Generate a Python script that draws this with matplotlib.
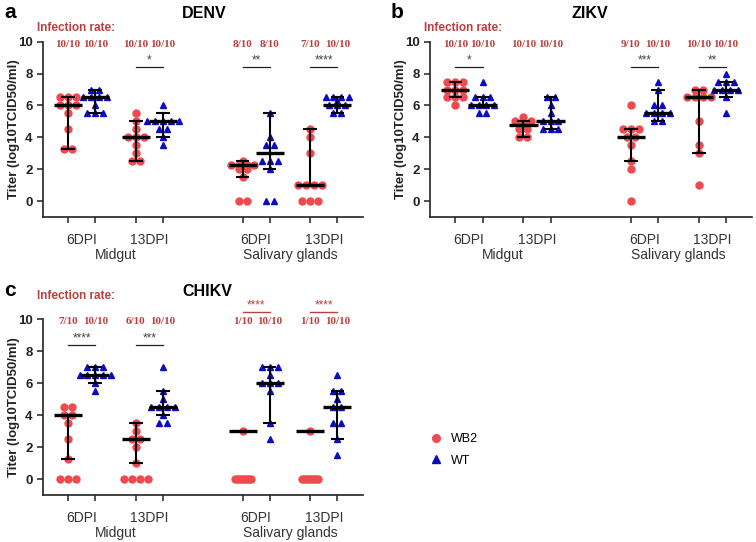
import numpy as np
import matplotlib
matplotlib.use('Agg')
import matplotlib.pyplot as plt
from matplotlib.lines import Line2D

plt.rcParams['font.family'] = ['Liberation Sans', 'DejaVu Sans']

strains = ['WB2', 'WT']
days = ['6DPI', '13DPI']
tissues = ['Midgut', 'Salivary glands']

# order: WB2/WT 6DPI, WB2/WT 13DPI (midgut), then the same for salivary glands
denv_pts = [
    [6.5, 6.5, 6.5, 6.0, 6.0, 6.0, 5.5, 4.5, 3.25, 3.25],
    [7.0, 7.0, 6.5, 6.5, 6.5, 6.5, 6.0, 5.5, 5.5, 5.5],
    [5.5, 5.0, 4.5, 4.0, 4.0, 4.0, 3.5, 3.0, 2.5, 2.5],
    [6.0, 5.0, 5.0, 5.0, 5.0, 5.0, 4.5, 4.5, 4.0, 3.5],
    [2.5, 2.25, 2.25, 2.25, 2.25, 2.0, 2.0, 1.5, 0, 0],
    [5.5, 4.0, 3.5, 3.5, 2.5, 2.5, 2.5, 2.0, 0, 0],
    [4.5, 4.0, 3.0, 1.0, 1.0, 1.0, 1.0, 0, 0, 0],
    [6.5, 6.5, 6.5, 6.5, 6.25, 6.0, 6.0, 6.0, 5.5, 5.5],
]
denv_med = [6.0, 6.5, 4.0, 5.0, 2.25, 3.0, 1.0, 6.0]
denv_lo = [3.25, 5.5, 2.5, 4.0, 1.5, 2.0, 1.0, 5.5]
denv_hi = [6.5, 7.0, 5.0, 5.5, 2.5, 5.5, 4.5, 6.5]
denv_rate = ['10/10', '10/10', '10/10', '10/10', '8/10', '8/10', '7/10', '10/10']
denv_sig = [(2, '*'), (4, '**'), (6, '****')]

zikv_pts = [
    [7.5, 7.5, 7.5, 7.0, 7.0, 7.0, 6.5, 6.5, 6.5, 6.0],
    [7.5, 6.5, 6.5, 6.5, 6.0, 6.0, 6.0, 6.0, 5.5, 5.5],
    [5.25, 5.0, 5.0, 5.0, 4.75, 4.75, 4.5, 4.5, 4.0, 4.0],
    [6.5, 6.5, 6.0, 5.5, 5.0, 5.0, 5.0, 4.5, 4.5, 4.5],
    [6.0, 4.5, 4.5, 4.5, 4.0, 4.0, 3.5, 2.5, 2.0, 0],
    [7.5, 7.0, 6.0, 6.0, 5.5, 5.5, 5.5, 5.5, 5.0, 5.0],
    [7.0, 7.0, 6.5, 6.5, 6.5, 6.5, 5.0, 3.5, 3.0, 1.0],
    [8.0, 7.5, 7.5, 7.5, 7.0, 7.0, 7.0, 7.0, 6.5, 5.5],
]
zikv_med = [7.0, 6.0, 4.75, 5.0, 4.0, 5.5, 6.5, 7.0]
zikv_lo = [6.5, 5.9, 4.0, 4.5, 2.5, 5.0, 3.0, 6.5]
zikv_hi = [7.5, 6.5, 5.0, 6.5, 4.5, 7.0, 7.0, 7.5]
zikv_rate = ['10/10', '10/10', '10/10', '10/10', '9/10', '10/10', '10/10', '10/10']
zikv_sig = [(0, '*'), (4, '***'), (6, '**')]

chikv_pts = [
    [4.5, 4.5, 4.0, 4.0, 3.5, 2.5, 1.25, 0, 0, 0],
    [7.0, 7.0, 7.0, 6.5, 6.5, 6.5, 6.5, 6.5, 6.0, 5.5],
    [3.5, 3.0, 2.5, 2.5, 2.0, 1.0, 0, 0, 0, 0],
    [7.0, 5.5, 5.0, 4.5, 4.5, 4.5, 4.5, 4.0, 3.5, 3.5],
    [3.0, 0, 0, 0, 0, 0, 0, 0, 0, 0],
    [7.0, 7.0, 7.0, 6.5, 6.0, 6.0, 6.0, 5.5, 3.5, 2.5],
    [3.0, 0, 0, 0, 0, 0, 0, 0, 0, 0],
    [6.5, 5.5, 5.5, 5.0, 4.5, 4.5, 3.5, 3.5, 2.5, 1.5],
]
chikv_med = [4.0, 6.5, 2.5, 4.5, 3.0, 6.0, 3.0, 4.5]
chikv_lo = [1.25, 6.0, 1.0, 4.0, None, 3.5, None, 2.5]
chikv_hi = [4.0, 7.0, 3.5, 5.5, None, 7.0, None, 5.5]
chikv_rate = ['7/10', '10/10', '6/10', '10/10', '1/10', '10/10', '1/10', '10/10']
chikv_sig = [(0, '****'), (2, '***')]
chikv_sig_top = [(4, '****'), (6, '****')]

RED = '#ef4a4f'
BLUE = '#0b0bc4'
DARKRED = '#b8413f'
pos = [0, 1, 2.5, 3.5, 6.45, 7.45, 8.95, 9.95]

W, H = 756, 542


def swarm(vals, step=0.29):
    # spread equal values side by side like a Prism scatter
    vals = np.asarray(vals, float)
    off = np.zeros(len(vals))
    for v in np.unique(vals):
        idx = np.where(vals == v)[0]
        n = len(idx)
        half = (n - 1) / 2 * step
        if n > 6:
            half = 0.3
        off[idx] = np.linspace(-half, half, n)
    return off


def draw_panel(ax, pts, med, lo, hi, rate, sig, sig_top=(), rate_title_y=10.85):
    for i in range(len(pts)):
        x0 = pos[i]
        p = np.asarray(pts[i], float)
        if i % 2 == 0:
            ax.plot(x0 + swarm(p), p, ls='none', marker='o', ms=5.0,
                    color=RED, mec=RED, zorder=2, clip_on=False)
        else:
            ax.plot(x0 + swarm(p), p, ls='none', marker='^', ms=5.0,
                    color=BLUE, mec=BLUE, zorder=2, clip_on=False)
        if lo[i] is not None:
            ax.plot([x0, x0], [lo[i], hi[i]], color='k', lw=1.5, zorder=3)
            ax.hlines([lo[i], hi[i]], x0 - 0.25, x0 + 0.25, color='k', lw=1.5,
                      zorder=3)
        ax.hlines(med[i], x0 - 0.52, x0 + 0.52, color='k', lw=2.4, zorder=4)
        ax.text(x0, 9.85, rate[i], ha='center', va='center', fontsize=8,
                family='Liberation Serif', fontweight='bold', color=DARKRED,
                clip_on=False)

    for i, stars in sig:
        ax.plot([pos[i], pos[i + 1]], [8.4, 8.4], color='#222222', lw=0.9)
        ax.text((pos[i] + pos[i + 1]) / 2, 8.45, stars, ha='center',
                va='bottom', fontsize=8.5, color='#444444')
    for i, stars in sig_top:
        ax.plot([pos[i], pos[i + 1]], [10.45, 10.45], color=DARKRED, lw=1.0,
                clip_on=False)
        ax.text((pos[i] + pos[i + 1]) / 2, 10.5, stars, ha='center',
                va='bottom', fontsize=8.5, color=DARKRED)

    ax.text(-1.15, rate_title_y, 'Infection rate:', ha='left', va='center',
            fontsize=8.5, fontweight='bold', color=DARKRED)

    ax.set_xlim(-0.93, 10.9)
    ax.set_ylim(-1, 10)
    ax.set_yticks([0, 2, 4, 6, 8, 10])
    ax.set_yticklabels(['0', '2', '4', '6', '8', '10'], fontweight='bold',
                       fontsize=9.5)
    ax.set_xticks(pos)
    ax.set_xticklabels([])
    ax.tick_params(direction='out', length=4, width=1.1, colors='#222222')
    ax.spines['top'].set_visible(False)
    ax.spines['right'].set_visible(False)
    for s in ('left', 'bottom'):
        ax.spines[s].set_linewidth(1.2)
        ax.spines[s].set_color('#222222')

    for k in range(4):
        xc = (pos[2 * k] + pos[2 * k + 1]) / 2
        ax.annotate(days[k % 2], (xc, 0), xycoords=('data', 'axes fraction'),
                    xytext=(0, -16.5), textcoords='offset points', ha='center',
                    va='center', fontsize=10, color='#333333')
    for k in range(2):
        xc = (pos[4 * k] + pos[4 * k + 3]) / 2
        ax.annotate(tissues[k], (xc, 0), xycoords=('data', 'axes fraction'),
                    xytext=(0, -27.5), textcoords='offset points', ha='center',
                    va='center', fontsize=10, color='#333333')


fig = plt.figure(figsize=(W / 100, H / 100), dpi=100)

axa = fig.add_axes([43 / W, 1 - 217 / H, 320 / W, 175.3 / H])
axb = fig.add_axes([430 / W, 1 - 217 / H, 322 / W, 175.3 / H])
axc = fig.add_axes([43 / W, 1 - 495.3 / H, 320 / W, 176 / H])

draw_panel(axa, denv_pts, denv_med, denv_lo, denv_hi, denv_rate, denv_sig)
draw_panel(axb, zikv_pts, zikv_med, zikv_lo, zikv_hi, zikv_rate, zikv_sig)
draw_panel(axc, chikv_pts, chikv_med, chikv_lo, chikv_hi, chikv_rate,
           chikv_sig, chikv_sig_top, rate_title_y=11.45)

for x, y, t in [(10, 13, 'a'), (397, 13, 'b'), (10, 291, 'c')]:
    fig.text(x / W, 1 - y / H, t, fontsize=15, fontweight='bold',
             ha='center', va='center')
for x, y, t in [(204, 13, 'DENV'), (590, 13, 'ZIKV'), (207, 291, 'CHIKV')]:
    fig.text(x / W, 1 - y / H, t, fontsize=11.5, fontweight='bold',
             ha='center', va='center')
for x, y in [(14, 129), (401, 129), (14, 407)]:
    fig.text(x / W, 1 - y / H, 'Titer (log10TCID50/ml)', rotation=90,
             fontsize=9.5, fontweight='bold', ha='center', va='center',
             color='#222222')

handles = [Line2D([], [], ls='none', marker='o', ms=5.5, color=RED),
           Line2D([], [], ls='none', marker='^', ms=5.5, color=BLUE)]
fig.legend(handles, strains, loc='center left',
           bbox_to_anchor=(418 / W, 1 - 450 / H), frameon=False, fontsize=9,
           handletextpad=0.7, labelspacing=0.75, handlelength=1)

fig.savefig('out.png', dpi=100)
